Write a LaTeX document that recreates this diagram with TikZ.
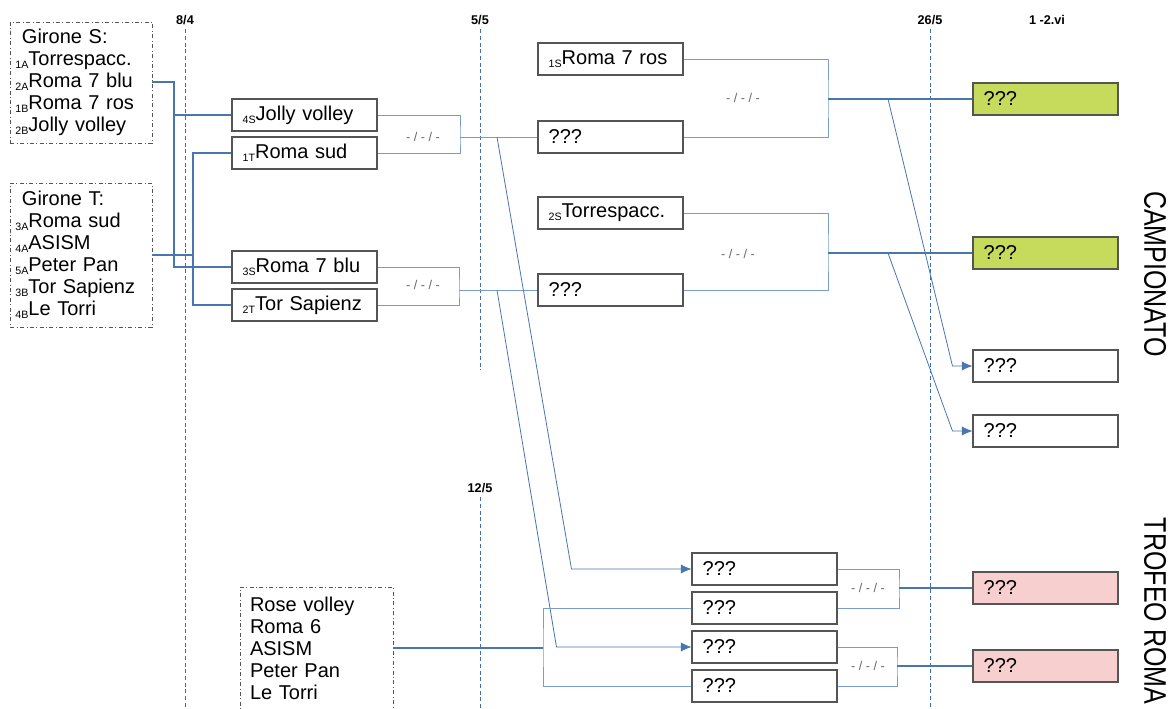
\documentclass[tikz,border=0pt]{standalone}
\usepackage{fontspec}
\setmainfont{Liberation Sans}
\usetikzlibrary{arrows.meta}
\definecolor{boxgray}{HTML}{555555}
\definecolor{linkblue}{HTML}{4A76B0}
\definecolor{lightlink}{HTML}{7A9CCB}
\definecolor{dashblue}{HTML}{3F6FB0}
\definecolor{champgreen}{HTML}{C6DA5B}
\definecolor{trophypink}{HTML}{F7CFCF}
\newcommand{\seed}[1]{\raisebox{-0.3ex}{\fontsize{8}{8}\selectfont #1}}

\begin{document}
\begin{tikzpicture}[x=0.75pt,y=-0.75pt,
  team/.style={draw=boxgray,line width=0.8pt,minimum width=108.75pt,minimum height=24pt,
    inner xsep=8pt,inner ysep=0pt,text width=92.75pt,align=left,font=\fontsize{15}{16}\selectfont},
  winner/.style={team,fill=champgreen},
  trophy/.style={team,fill=trophypink},
  girone/.style={draw=boxgray,dash dot,line width=0.6pt,inner ysep=0pt,align=left,
    font=\fontsize{15}{16.5}\selectfont},
  score/.style={font=\fontsize{9.5}{10}\selectfont,text=gray!80!black},
  date/.style={font=\fontsize{9.5}{11}\selectfont\bfseries},
  link/.style={draw=lightlink,line width=0.6pt},
  feed/.style={draw=linkblue,line width=0.9pt},
  dateline/.style={draw=dashblue,line width=0.6pt,dash pattern=on 3pt off 2pt},
  title/.style={rotate=-90,font=\fontsize{18.75}{20}\selectfont}]
\useasboundingbox[fill=white] (0,0) rectangle (1168,708);

% dates
\node[date] (t84) at (185,20) {8/4};
\draw[dateline] (t84.south) -- (t84.south |- 0,708);
\node[date] (t55) at (480,20) {5/5};
\draw[dateline] (t55.south) -- (t55.south |- 0,370);
\node[date] (t125) at (480,488) {12/5};
\draw[dateline] (t125.south) -- (t125.south |- 0,708);
\node[date] (t265) at (930,20) {26/5};
\draw[dateline] (t265.south) -- (t265.south |- 0,708);
\node[date] (t12) at (1047,20) {1 -2.vi};

% gironi
\node[girone,minimum width=106.5pt,minimum height=90.75pt,inner xsep=4pt,text width=98.5pt] (gS) at (81,82.5)
  {\hspace*{5pt}Girone S:\\ \seed{1A}Torrespacc.\\ \seed{2A}Roma 7 blu\\ \seed{1B}Roma 7 ros\\ \seed{2B}Jolly volley};
\node[girone,minimum width=106.5pt,minimum height=108pt,inner xsep=4pt,text width=98.5pt] (gT) at (81,255)
  {\hspace*{5pt}Girone T:\\ \seed{3A}Roma sud\\ \seed{4A}ASISM\\ \seed{5A}Peter Pan\\ \seed{3B}Tor Sapienz\\ \seed{4B}Le Torri};
\node[girone,minimum width=114.75pt,minimum height=91.5pt,inner xsep=7.5pt,text width=99.75pt] (rose) at (316.5,648)
  {Rose volley\\ Roma 6\\ ASISM\\ Peter Pan\\ Le Torri};

% campionato
\node[team] (r4S) at (304.5,115) {\seed{4S}Jolly volley};
\node[team] (r1T) at (304.5,153) {\seed{1T}Roma sud};
\node[team] (r3S) at (304.5,267) {\seed{3S}Roma 7 blu};
\node[team] (r2T) at (304.5,305) {\seed{2T}Tor Sapienz};
\node[team] (s1S) at (610.5,59) {\seed{1S}Roma 7 ros};
\node[team] (q1) at (610.5,137) {???};
\node[team] (s2S) at (610.5,213) {\seed{2S}Torrespacc.};
\node[team] (q2) at (610.5,290) {???};
\node[winner] (f1) at (1045.5,99) {???};
\node[winner] (f2) at (1045.5,253) {???};
\node[team] (f3) at (1045.5,366) {???};
\node[team] (f4) at (1045.5,431) {???};

% trofeo
\node[team] (t1) at (764.5,569) {???};
\node[team] (t2) at (764.5,608) {???};
\node[team] (t3) at (764.5,647) {???};
\node[team] (t4) at (764.5,686) {???};
\node[trophy] (p1) at (1045.5,588) {???};
\node[trophy] (p2) at (1045.5,666) {???};

% scores
\node[score] (sc1) at (423,137) {- / - / -};
\node[score] (sc2) at (423,285) {- / - / -};
\node[score] (sc3) at (743,98) {- / - / -};
\node[score] (sc4) at (738,254) {- / - / -};
\node[score] (sc5) at (868,588) {- / - / -};
\node[score] (sc6) at (868,666) {- / - / -};

% from the gironi
\coordinate (jS) at (174,82);
\draw[feed] (gS.east |- jS) -- (jS) |- (r4S.west);
\draw[feed] (jS) |- (r3S.west);
\coordinate (jT) at (193,255);
\draw[feed] (gT.east) -- (jT);
\draw[feed] (r1T.west) -| (jT) |- (r2T.west);

% brackets
\coordinate (k1) at (460,137);
\draw[link] (r4S.east) -| (k1) |- (r1T.east);
\draw[link] (k1) -- (q1.west);
\coordinate (k2) at (459,290);
\draw[link] (r3S.east) -| (k2) |- (r2T.east);
\draw[link] (k2) -- (q2.west);
\coordinate (k3) at (828,99);
\draw[link] (s1S.east) -| (k3) |- (q1.east);
\draw[feed] (k3) -- (f1.west);
\coordinate (k4) at (828,253);
\draw[link] (s2S.east) -| (k4) |- (q2.east);
\draw[feed] (k4) -- (f2.west);

% losers
\coordinate (l1) at (497,137);
\draw[link,draw=linkblue,-{Latex[length=8pt,width=7pt]}] (l1) -- ([xshift=-90pt]t1.west) -- (t1.west);
\coordinate (l2) at (497,290);
\draw[link,draw=linkblue,-{Latex[length=8pt,width=7pt]}] (l2) -- ([xshift=-101.25pt]t3.west) -- (t3.west);
\coordinate (d1) at (888,99);
\draw[link,draw=linkblue,-{Latex[length=8pt,width=7pt]}] (d1) -- ([xshift=-15pt]f3.west) -- (f3.west);
\coordinate (d2) at (888,253);
\draw[link,draw=linkblue,-{Latex[length=8pt,width=7pt]}] (d2) -- ([xshift=-15pt]f4.west) -- (f4.west);

% trofeo brackets
\coordinate (jR) at (543,648);
\draw[feed] (rose.east) -- (jR);
\draw[link] (t2.west) -| (jR) |- (t4.west);
\coordinate (k5) at (899,588);
\draw[link] (t1.east) -| (k5) |- (t2.east);
\draw[feed] (k5) -- (p1.west);
\coordinate (k6) at (897,666);
\draw[link] (t3.east) -| (k6) |- (t4.east);
\draw[feed] (k6) -- (p2.west);

% titles
\node[title] (camp) at (1155,274) {\scalebox{1}[1.25]{CAMPIONATO}};
\node[title] (trofeo) at (1155,611) {\scalebox{1}[1.25]{TROFEO ROMA}};
\end{tikzpicture}
\end{document}
